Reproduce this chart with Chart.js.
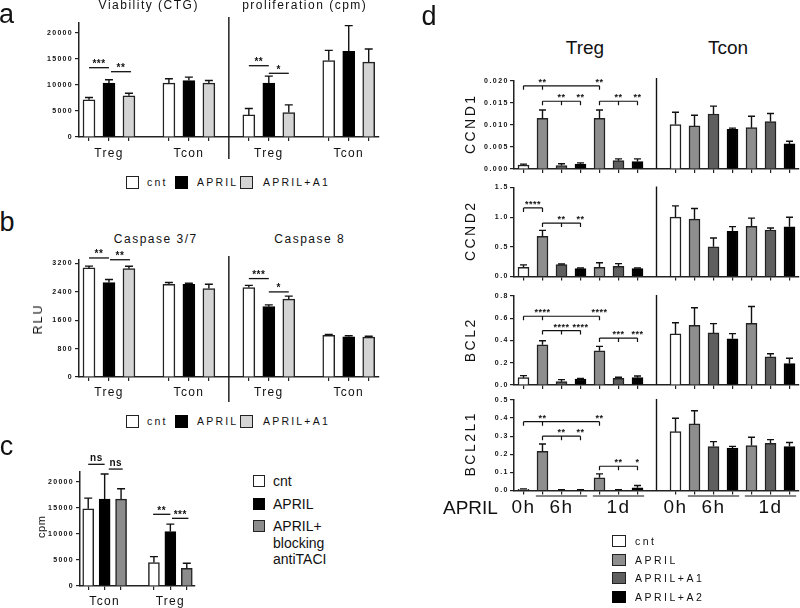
<!DOCTYPE html>
<html>
<head>
<meta charset="utf-8">
<title>APRIL / Treg figure</title>
<script src="https://cdn.jsdelivr.net/npm/chart.js@4.4.1/dist/chart.umd.min.js"></script>
<style>
  body { margin: 0; background: #fff; }
  #fig { position: relative; width: 800px; height: 608px; overflow: hidden;
         font-family: "Liberation Sans", Arial, sans-serif; color: #111; }
  #fig canvas { position: absolute; }
  .txt { position: absolute; white-space: nowrap; line-height: 1; transform: translate(-50%, -50%); }
  .lt  { position: absolute; white-space: nowrap; line-height: 1; transform: translate(0, -50%); }
  .box { position: absolute; box-sizing: border-box; border: 1.5px solid #222; }
</style>
</head>
<body>
<div id="fig"></div>
<script>
// ---------- data ----------
// panel a: viability (CTG) | proliferation (cpm)
const groupsA = ['Treg', 'Tcon', 'Treg', 'Tcon'];
const aCnt = [7140, 10350, 4240, 14720];
const aCntErr = [450, 840, 1230, 1930];
const aApril = [10350, 10870, 10350, 16460];
const aAprilErr = [650, 640, 1350, 4950];
const aA1 = [7910, 10350, 4690, 14400];
const aA1Err = [510, 520, 1480, 2510];
const aTicks = [0, 5000, 10000, 15000, 20000];

// panel b: caspase 3/7 | caspase 8 (RLU)
const bCnt = [3070, 2610, 2520, 1170];
const bCntErr = [50, 50, 60, 25];
const bApril = [2660, 2610, 1980, 1130];
const bAprilErr = [85, 30, 50, 30];
const bA1 = [3050, 2490, 2190, 1120];
const bA1Err = [65, 120, 85, 25];
const bTicks = [0, 800, 1600, 2400, 3200];

// panel c: proliferation (cpm)
const groupsC = ['Tcon', 'Treg'];
const cCnt = [14800, 4490];
const cCntErr = [2060, 1150];
const cApril = [16670, 10450];
const cAprilErr = [4800, 1410];
const cTaci = [16670, 3400];
const cTaciErr = [1980, 960];
const cTicks = [0, 5000, 10000, 15000, 20000];

// panel d: qPCR, bars = 0h cnt, 6h APRIL/A1/A2, 1d APRIL/A1/A2
const dSeries = ['cnt', 'APRIL', 'APRIL+A1', 'APRIL+A2'];
const dTreat = [0, 1, 2, 3, 1, 2, 3];
const dTimeLabels = ['0h', '', '6h', '', '', '1d', ''];

const ccnd1Treg = [0.0009, 0.0115, 0.0008, 0.0011, 0.0115, 0.0019, 0.0017];
const ccnd1TregErr = [0.0002, 0.0019, 0.0004, 0.0003, 0.0019, 0.0004, 0.0006];
const ccnd1Tcon = [0.0101, 0.0098, 0.0125, 0.0090, 0.0094, 0.0108, 0.0057];
const ccnd1TconErr = [0.0028, 0.0024, 0.0018, 0.0003, 0.0026, 0.0018, 0.0006];
const ccnd1Ticks = [0, 0.005, 0.010, 0.015, 0.020];

const ccnd2Treg = [0.156, 0.678, 0.200, 0.133, 0.156, 0.172, 0.133];
const ccnd2TregErr = [0.04, 0.10, 0.01, 0.01, 0.075, 0.045, 0.01];
const ccnd2Tcon = [1.0, 0.967, 0.50, 0.761, 0.844, 0.783, 0.839];
const ccnd2TconErr = [0.19, 0.18, 0.15, 0.08, 0.14, 0.035, 0.16];
const ccnd2Ticks = [0, 0.5, 1.0, 1.5];

const bcl2Treg = [0.066, 0.362, 0.030, 0.054, 0.308, 0.060, 0.066];
const bcl2TregErr = [0.018, 0.036, 0.018, 0.006, 0.039, 0.009, 0.015];
const bcl2Tcon = [0.459, 0.537, 0.468, 0.416, 0.555, 0.253, 0.193];
const bcl2TconErr = [0.10, 0.157, 0.084, 0.046, 0.15, 0.028, 0.048];
const bcl2Ticks = [0, 0.2, 0.4, 0.6, 0.8];

const bcl2l1Treg = [0.006, 0.217, 0.002, 0.002, 0.070, 0.002, 0.015];
const bcl2l1TregErr = [0.003, 0.04, 0.002, 0.002, 0.022, 0.002, 0.013];
const bcl2l1Tcon = [0.325, 0.368, 0.243, 0.235, 0.248, 0.261, 0.243];
const bcl2l1TconErr = [0.074, 0.073, 0.027, 0.009, 0.046, 0.02, 0.022];
const bcl2l1Ticks = [0, 0.1, 0.2, 0.3, 0.4, 0.5];

// significance marks (slot index, value on y)
const aSig = [
  { from: 0, to: 1, y: 13330, label: '***' }, { from: 1.1, to: 2.1, y: 12560, label: '**' },
  { from: 8, to: 9, y: 13710, label: '**' }, { from: 9, to: 10, y: 12250, label: '*' }
];
const bSig = [
  { from: 0, to: 1, y: 3350, label: '**' }, { from: 1.05, to: 2.05, y: 3300, label: '**' },
  { from: 8, to: 9, y: 2770, label: '***' }, { from: 9, to: 10, y: 2395, label: '*' }
];
const cSig = [
  { from: 0, to: 1, y: 23340, label: 'ns' }, { from: 1.25, to: 2.1, y: 22430, label: 'ns' },
  { from: 3.95, to: 5, y: 13750, label: '**' }, { from: 5.1, to: 6.1, y: 12980, label: '***' }
];
const ccnd1Sig = [
  { from: 0, to: 4, y: 0.0189, ticks: [0, 1, 4], labels: [[1, '**'], [4, '**']] },
  { from: 1, to: 3, y: 0.0154, ticks: [1, 2, 3], labels: [[2, '**'], [3, '**']] },
  { from: 4, to: 6, y: 0.0154, ticks: [4, 5, 6], labels: [[5, '**'], [6, '**']] }
];
const ccnd2Sig = [
  { from: 0, to: 1, y: 1.156, ticks: [0, 1], labels: [[0.5, '****']] },
  { from: 1, to: 3, y: 0.90, ticks: [1, 2, 3], labels: [[2, '**'], [3, '**']] }
];
const bcl2Sig = [
  { from: 0, to: 4, y: 0.618, ticks: [0, 1, 4], labels: [[1, '****'], [4, '****']] },
  { from: 1, to: 3, y: 0.489, ticks: [1, 2, 3], labels: [[2, '****'], [3, '****']] },
  { from: 4, to: 6, y: 0.422, ticks: [4, 5, 6], labels: [[5, '***'], [6, '***']] }
];
const bcl2l1Sig = [
  { from: 0, to: 4, y: 0.38, ticks: [0, 1, 4], labels: [[1, '**'], [4, '**']] },
  { from: 1, to: 3, y: 0.30, ticks: [1, 2, 3], labels: [[2, '**'], [3, '**']] },
  { from: 4, to: 6, y: 0.134, ticks: [4, 5, 6], labels: [[5, '**'], [6, '*']] }
];

// ---------- helpers ----------
const FAMILY = '"Liberation Sans", Arial, sans-serif';
Chart.defaults.font.family = FAMILY;
Chart.defaults.color = '#111';
const fig = document.getElementById('fig');

function text(str, x, y, font, opt = {}) {
  const el = document.createElement('div');
  el.className = opt.left ? 'lt' : 'txt';
  el.textContent = str;
  el.style.left = x + 'px';
  el.style.top = y + 'px';
  el.style.font = font + ' ' + FAMILY;
  if (opt.ls) {
    el.style.letterSpacing = opt.ls + 'px';
    if (!opt.left) el.style.paddingLeft = opt.ls + 'px';
  }
  if (opt.rot) el.style.transform = 'translate(-50%, -50%) rotate(-90deg)';
  fig.appendChild(el);
}

function box(x, y, w, h, color) {
  const el = document.createElement('div');
  el.className = 'box';
  Object.assign(el.style, { left: x + 'px', top: y + 'px', width: w + 'px', height: h + 'px', background: color });
  if (color === '#000000') el.style.borderColor = '#000';
  fig.appendChild(el);
}

// groups of bars separated by one empty slot
function groupedSets(series, colors, nGroups, perGroup) {
  const n = nGroups * (perGroup + 1) - 1;
  return series.map(([vals, errs], s) => {
    const data = new Array(n).fill(null), errors = new Array(n).fill(null);
    vals.forEach((v, g) => { data[g * (perGroup + 1) + s] = v; errors[g * (perGroup + 1) + s] = errs[g]; });
    return { data, errors, color: colors[s] };
  });
}

function groupLabels(groups, perGroup) {
  const n = groups.length * (perGroup + 1) - 1;
  const labels = new Array(n).fill('');
  groups.forEach((g, i) => { labels[i * (perGroup + 1) + Math.floor(perGroup / 2)] = g; });
  return labels;
}

// qPCR panels: Treg slots 0-6, gap at 7, Tcon slots 8-14
function qpcrSets(treg, tregErr, tcon, tconErr, colors) {
  return dSeries.map((name, s) => {
    const data = new Array(15).fill(null), errors = new Array(15).fill(null);
    dTreat.forEach((t, i) => {
      if (t !== s) return;
      data[i] = treg[i]; errors[i] = tregErr[i];
      data[8 + i] = tcon[i]; errors[8 + i] = tconErr[i];
    });
    return { data, errors, color: colors[s] };
  });
}

function extras(spec) {
  return {
    id: 'extras',
    beforeDraw(chart) { chart.ctx.letterSpacing = spec.tickLS; },
    afterDraw(chart) {
      const ctx = chart.ctx, xs = chart.scales.x, ys = chart.scales.y, area = chart.chartArea;
      const x0 = xs.getPixelForValue(0), sw = xs.getPixelForValue(1) - x0;
      const px = s => x0 + s * sw;
      ctx.save();
      ctx.letterSpacing = '0px';
      ctx.strokeStyle = '#111';
      ctx.fillStyle = '#111';
      // upper error bars
      chart.data.datasets.forEach((ds, di) => {
        const meta = chart.getDatasetMeta(di);
        ds.data.forEach((v, i) => {
          if (v === null) return;
          const bx = meta.data[i].x;
          const yTop = ys.getPixelForValue(v), yErr = ys.getPixelForValue(v + ds.errors[i]);
          ctx.lineWidth = 1.4;
          ctx.beginPath();
          ctx.moveTo(bx, yTop); ctx.lineTo(bx, yErr);
          ctx.moveTo(bx - spec.cap, yErr); ctx.lineTo(bx + spec.cap, yErr);
          ctx.stroke();
        });
      });
      // Treg | Tcon divider
      if (spec.divider) {
        const dx = px(spec.divider.slot);
        ctx.lineWidth = 1.4;
        ctx.beginPath();
        ctx.moveTo(dx, area.top - spec.divider.up);
        ctx.lineTo(dx, area.bottom + spec.divider.down);
        ctx.stroke();
      }
      ctx.textAlign = 'center';
      ctx.textBaseline = 'alphabetic';
      ctx.font = spec.sigFont;
      ctx.letterSpacing = '0.5px';
      // plain significance lines
      (spec.sigLines || []).forEach(l => {
        const y = ys.getPixelForValue(l.y);
        ctx.lineWidth = 1.3;
        ctx.beginPath(); ctx.moveTo(px(l.from), y); ctx.lineTo(px(l.to), y); ctx.stroke();
        ctx.fillText(l.label, px((l.from + l.to) / 2), y - (l.label === 'ns' ? 3.5 : 0.5));
      });
      // brackets with drop ticks
      (spec.brackets || []).forEach(b => {
        const y = ys.getPixelForValue(b.y);
        ctx.lineWidth = 1.2;
        ctx.beginPath();
        ctx.moveTo(px(b.from), y); ctx.lineTo(px(b.to), y);
        b.ticks.forEach(t => { ctx.moveTo(px(t), y); ctx.lineTo(px(t), y + 4); });
        ctx.stroke();
        b.labels.forEach(([at, lab]) => ctx.fillText(lab, px(at), y - 1));
      });
      // time-point underlines
      (spec.underlines || []).forEach(([a, b]) => {
        const y = area.bottom + 5.5;
        ctx.lineWidth = 1.2;
        ctx.beginPath(); ctx.moveTo(px(a) - 0.35 * sw, y); ctx.lineTo(px(b) + 0.35 * sw, y); ctx.stroke();
      });
      ctx.restore();
    }
  };
}

function barChart(spec) {
  const cv = document.createElement('canvas');
  cv.width = spec.width; cv.height = spec.height;
  Object.assign(cv.style, { left: spec.left + 'px', top: spec.top + 'px', width: spec.width + 'px', height: spec.height + 'px' });
  fig.appendChild(cv);
  const hasBar = spec.labels.map((_, i) => spec.datasets.some(d => d.data[i] !== null));
  const tc = c => (hasBar[c.index] ? '#222' : 'rgba(0,0,0,0)');
  return new Chart(cv, {
    type: 'bar',
    data: {
      labels: spec.labels,
      datasets: spec.datasets.map(d => ({
        data: d.data, errors: d.errors,
        backgroundColor: d.color,
        borderColor: d.color === '#000000' ? '#000' : '#222',
        borderWidth: 1.5, borderSkipped: 'bottom',
        barThickness: spec.barW, grouped: false
      }))
    },
    options: {
      responsive: false, animation: false,
      layout: { padding: { top: spec.padTop, right: spec.padRight, bottom: 0, left: 0 } },
      plugins: { legend: { display: false }, tooltip: { enabled: false } },
      scales: {
        x: {
          offset: true,
          grid: { offset: false, drawOnChartArea: false, drawTicks: true, tickLength: 4, lineWidth: 1.2, color: tc, tickColor: tc },
          border: { display: true, color: '#222', width: 1.5 },
          ticks: { autoSkip: false, maxRotation: 0, minRotation: 0, padding: spec.xPad, color: '#111', font: spec.xFont },
          afterFit: s => { s.height = spec.xAxisH; }
        },
        y: {
          min: 0, max: spec.yMax,
          grid: { drawOnChartArea: false, drawTicks: true, tickLength: 4, lineWidth: 1.2, color: '#222' },
          border: { display: true, color: '#222', width: 1.5 },
          ticks: { padding: spec.yPad, color: '#111', font: { size: 7, weight: 'bold' }, callback: spec.yFmt },
          afterBuildTicks: s => { s.ticks = spec.yTicks.map(v => ({ value: v })); },
          afterFit: s => { s.width = spec.yAxisW; }
        }
      }
    },
    plugins: [extras(spec)]
  });
}

// ---------- panel a ----------
const abColors = ['#ffffff', '#000000', '#d4d4d4'];
barChart({
  left: 0, top: 14, width: 390, height: 152, yAxisW: 79, xAxisH: 29, padTop: 8.6, padRight: 11.3,
  labels: groupLabels(groupsA, 3),
  datasets: groupedSets([[aCnt, aCntErr], [aApril, aAprilErr], [aA1, aA1Err]], abColors, 4, 3),
  yMax: 22000, yTicks: aTicks, yFmt: v => String(v), yPad: 2,
  xFont: { size: 12 }, xPad: 5.8, tickLS: '1.3px', barW: 12, cap: 4,
  divider: { slot: 7, up: 5.6, down: 22 }, sigLines: aSig, sigFont: 'bold 10px ' + FAMILY
});
text('a', 6.5, 13.9, '27px');
text('Viability (CTG)', 148, 4.8, '12px', { ls: 1.5 });
text('proliferation (cpm)', 304, 4.8, '12px', { ls: 1.5 });
box(126, 175.5, 13, 13, abColors[0]);
box(174.5, 175.5, 13, 13, abColors[1]);
box(240, 175.5, 13, 13, abColors[2]);
text('cnt', 147, 182.3, '10.5px', { left: true, ls: 2.2 });
text('APRIL', 197, 182.3, '10.5px', { left: true, ls: 2.2 });
text('APRIL+A1', 263, 182.3, '10.5px', { left: true, ls: 2.2 });

// ---------- panel b ----------
barChart({
  left: 0, top: 246, width: 390, height: 160, yAxisW: 79, xAxisH: 29, padTop: 14.1, padRight: 11.3,
  labels: groupLabels(groupsA, 3),
  datasets: groupedSets([[bCnt, bCntErr], [bApril, bAprilErr], [bA1, bA1Err]], abColors, 4, 3),
  yMax: 3290, yTicks: bTicks, yFmt: v => String(v), yPad: 2,
  xFont: { size: 12 }, xPad: 4.5, tickLS: '1.3px', barW: 12, cap: 4,
  divider: { slot: 7, up: 4, down: 25 }, sigLines: bSig, sigFont: 'bold 10px ' + FAMILY
});
text('b', 7, 222.3, '27px');
text('Caspase 3/7', 155, 239, '12px', { ls: 1.5 });
text('Caspase 8', 309, 239, '12px', { ls: 1.5 });
text('RLU', 37.5, 320, '12.5px', { ls: 2, rot: true });
box(126, 414.5, 13, 13, abColors[0]);
box(174.5, 414.5, 13, 13, abColors[1]);
box(240, 414.5, 13, 13, abColors[2]);
text('cnt', 147, 421.3, '10.5px', { left: true, ls: 2.2 });
text('APRIL', 197, 421.3, '10.5px', { left: true, ls: 2.2 });
text('APRIL+A1', 263, 421.3, '10.5px', { left: true, ls: 2.2 });

// ---------- panel c ----------
const cColors = ['#ffffff', '#000000', '#8c8c8c'];
barChart({
  left: 0, top: 448, width: 205, height: 160, yAxisW: 80, xAxisH: 22, padTop: 23.3, padRight: 10,
  labels: groupLabels(groupsC, 3),
  datasets: groupedSets([[cCnt, cCntErr], [cApril, cAprilErr], [cTaci, cTaciErr]], cColors, 2, 3),
  yMax: 22000, yTicks: cTicks, yFmt: v => String(v), yPad: 2,
  xFont: { size: 12 }, xPad: 4.8, tickLS: '1.3px', barW: 11, cap: 4,
  divider: null, sigLines: cSig, sigFont: 'bold 10px ' + FAMILY
});
text('c', 6.5, 445.6, '27px');
text('cpm', 41, 527, '11px', { ls: 0.5, rot: true });
box(253, 475, 12, 12, cColors[0]);
box(253, 498, 12, 12, cColors[1]);
box(253, 520, 12, 12, cColors[2]);
text('cnt', 273, 481, '14px', { left: true });
text('APRIL', 273, 504, '14px', { left: true });
text('APRIL+', 273, 526, '14px', { left: true });
text('blocking', 273, 543, '14px', { left: true });
text('antiTACI', 273, 559, '14px', { left: true });

// ---------- panel d ----------
const dColors = ['#ffffff', '#8e8e8e', '#5f5f5f', '#000000'];
const dLabels = [...dTimeLabels, '', ...dTimeLabels];
const dBlank = new Array(15).fill('');
const dBase = { left: 440, width: 360, yAxisW: 74, padRight: 1, yPad: 1, tickLS: '1.5px', barW: 11, cap: 3.5,
                xFont: { size: 19 }, sigFont: 'bold 9px ' + FAMILY };
barChart(Object.assign({}, dBase, {
  top: 70, height: 110, padTop: 11, xAxisH: 11, labels: dBlank, xPad: 0,
  datasets: qpcrSets(ccnd1Treg, ccnd1TregErr, ccnd1Tcon, ccnd1TconErr, dColors),
  yMax: 0.02, yTicks: ccnd1Ticks, yFmt: v => v.toFixed(3),
  divider: { slot: 7, up: 3, down: 0 }, brackets: ccnd1Sig
}));
barChart(Object.assign({}, dBase, {
  top: 178, height: 110, padTop: 9.5, xAxisH: 11.5, labels: dBlank, xPad: 0,
  datasets: qpcrSets(ccnd2Treg, ccnd2TregErr, ccnd2Tcon, ccnd2TconErr, dColors),
  yMax: 1.5, yTicks: ccnd2Ticks, yFmt: v => v.toFixed(1),
  divider: { slot: 7, up: 1, down: 0 }, brackets: ccnd2Sig
}));
barChart(Object.assign({}, dBase, {
  top: 287, height: 110, padTop: 9, xAxisH: 12, labels: dBlank, xPad: 0,
  datasets: qpcrSets(bcl2Treg, bcl2TregErr, bcl2Tcon, bcl2TconErr, dColors),
  yMax: 0.8, yTicks: bcl2Ticks, yFmt: v => v.toFixed(1),
  divider: { slot: 7, up: 1, down: 0 }, brackets: bcl2Sig
}));
barChart(Object.assign({}, dBase, {
  top: 390, height: 130, padTop: 10, xAxisH: 29.5, labels: dLabels, xPad: 2,
  datasets: qpcrSets(bcl2l1Treg, bcl2l1TregErr, bcl2l1Tcon, bcl2l1TconErr, dColors),
  yMax: 0.5, yTicks: bcl2l1Ticks, yFmt: v => v.toFixed(1),
  divider: { slot: 7, up: 1, down: 0 }, brackets: bcl2l1Sig,
  underlines: [[1, 3], [4, 6], [9, 11], [12, 14]]
}));
text('d', 429, 15.6, '27px');
text('Treg', 585, 47.5, '19px');
text('Tcon', 728, 47.5, '19px');
text('CCND1', 470, 125, '14px', { ls: 2.5, rot: true });
text('CCND2', 470, 232, '14px', { ls: 2.5, rot: true });
text('BCL2', 470, 340.5, '14px', { ls: 2.5, rot: true });
text('BCL2L1', 470, 445, '14px', { ls: 2.5, rot: true });
text('APRIL', 443, 508, '19px', { left: true });
dSeries.forEach((name, i) => {
  const cy = [541, 559.5, 578, 597][i];
  box(612, cy - 6, 14, 12, dColors[i]);
  text(name, 635, cy, '10.5px', { left: true, ls: 2.5 });
});
</script>
</body>
</html>
